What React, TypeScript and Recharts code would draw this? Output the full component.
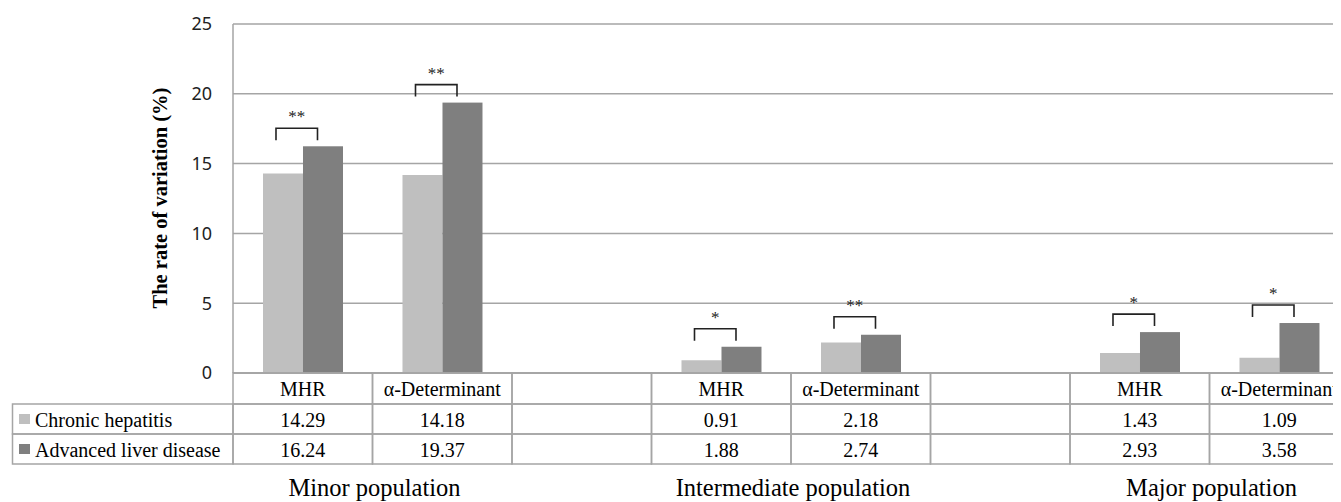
import { BarChart, Bar, XAxis, YAxis, CartesianGrid } from "recharts";

const categories = ["MHR", "α-Determinant", "", "MHR", "α-Determinant", "", "MHR", "α-Determinant"];
const chronicHepatitis = [14.29, 14.18, null, 0.91, 2.18, null, 1.43, 1.09];
const advancedLiver = [16.24, 19.37, null, 1.88, 2.74, null, 2.93, 3.58];
const significance = ["**", "**", "", "*", "**", "", "*", "*"];
const groupTitles = ["Minor population", "", "", "Intermediate population", "", "", "Major population", ""];
const seriesNames = ["Chronic hepatitis", "Advanced liver disease"];
const yTicks = [0, 5, 10, 15, 20, 25];

const data = categories.map((c, i) => ({
  key: `c${i}`,
  label: c,
  chronic: chronicHepatitis[i],
  advanced: advancedLiver[i],
  sig: significance[i],
  group: groupTitles[i],
}));

const LIGHT = "#bfbfbf";
const DARK = "#7f7f7f";
const GRID = "#a5a5a5";
const CHART_W = 1345;
const CHART_H = 494;
const Y_W = 225;
const M_RIGHT = 4;
const BAND = (CHART_W - Y_W - M_RIGHT) / categories.length;
const ROW_H = [31, 30, 30];
const SERIF = "'Liberation Serif', 'Times New Roman', serif";
const serifStyle = { fontFamily: SERIF };

const fmt = (v: number | null) => (v == null ? "" : v.toFixed(2));

const TableTick = (props: any) => {
  const { x, y } = props;
  const i = props.index ?? props.payload?.index ?? 0;
  const d = data[i];
  const left = x - BAND / 2;
  const rowTops = [y, y + ROW_H[0], y + ROW_H[0] + ROW_H[1]];
  const cells = [d.label, fmt(d.chronic), fmt(d.advanced)];
  return (
    <g>
      {rowTops.map((top, r) => (
        <g key={r}>
          <rect x={left} y={top} width={BAND} height={ROW_H[r]} fill="none" stroke={GRID} strokeWidth={1.5} />
          <text x={x} y={top + ROW_H[r] / 2 + 7.5} textAnchor="middle" style={serifStyle} fontSize={20} fill="#000">
            {cells[r]}
          </text>
        </g>
      ))}
      {i === 0 &&
        seriesNames.map((name, r) => {
          const top = rowTops[r + 1];
          return (
            <g key={name}>
              <rect x={4.5} y={top} width={left - 4.5} height={ROW_H[r + 1]} fill="none" stroke={GRID} strokeWidth={1.5} />
              <rect x={11} y={top + ROW_H[r + 1] / 2 - 5} width={11} height={10} fill={r === 0 ? LIGHT : DARK} />
              <text x={27} y={top + ROW_H[r + 1] / 2 + 7.5} style={serifStyle} fontSize={20} fill="#000">
                {name}
              </text>
            </g>
          );
        })}
      {d.group && (
        <text x={x + BAND / 2 + 2} y={y + 123} textAnchor="middle" style={serifStyle} fontSize={24.5} fill="#000">
          {d.group}
        </text>
      )}
    </g>
  );
};

// dark bar plus the significance bracket spanning both bars of the category
const BracketBar = (props: any) => {
  const { x, y, width, height, fill, payload } = props;
  if (x == null || y == null || !height) return null;
  const sig = payload?.sig;
  const l = x - width + 13;
  const r = x + 14.5;
  const bottom = y - 6;
  const top = bottom - 12;
  return (
    <g>
      <rect x={x} y={y} width={width} height={height} fill={fill} />
      {sig && (
        <g>
          <path d={`M${l},${bottom} V${top} H${r} V${bottom}`} fill="none" stroke="#222" strokeWidth={1.6} />
          <text x={(l + r) / 2} y={top - 6} textAnchor="middle" style={serifStyle} fontSize={17} fill="#222">
            {sig}
          </text>
        </g>
      )}
    </g>
  );
};

export default function App() {
  return (
    <div style={{ width: 1333, height: CHART_H, overflow: "hidden" }}>
      <BarChart
        width={CHART_W}
        height={CHART_H}
        data={data}
        margin={{ top: 16, right: M_RIGHT, bottom: 0, left: 0 }}
        barCategoryGap="21.5%"
        barGap={0}
      >
        <CartesianGrid vertical={false} stroke={GRID} strokeWidth={1.5} />
        <XAxis
          dataKey="key"
          height={129}
          interval={0}
          tickSize={0}
          tickMargin={0}
          tickLine={false}
          axisLine={{ stroke: GRID, strokeWidth: 1.5 }}
          tick={(p: any) => <TableTick {...p} />}
        />
        <YAxis
          width={Y_W}
          domain={[0, 25]}
          ticks={yTicks}
          tickLine={false}
          tickSize={0}
          tickMargin={21}
          axisLine={{ stroke: GRID, strokeWidth: 1.5 }}
          tick={{ fontFamily: "'Noto Sans', sans-serif", fontSize: 18, fill: "#222" }}
          label={{
            content: () => (
              <text
                x={159}
                y={190}
                transform="rotate(-90 159 190)"
                textAnchor="middle"
                style={serifStyle}
                fontWeight="bold"
                fontSize={20.5}
                fill="#000"
              >
                The rate of variation (%)
              </text>
            ),
          }}
        />
        <Bar dataKey="chronic" fill={LIGHT} isAnimationActive={false} />
        <Bar dataKey="advanced" fill={DARK} isAnimationActive={false} shape={(p: any) => <BracketBar {...p} />} />
      </BarChart>
    </div>
  );
}
